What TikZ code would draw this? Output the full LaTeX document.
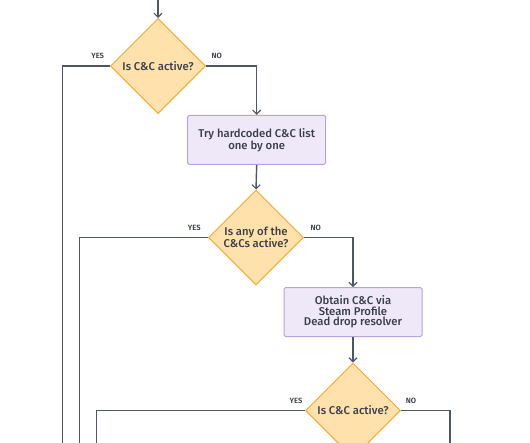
\documentclass[tikz,border=0pt]{standalone}
\usepackage{fontspec}
\setmainfont{Fira Sans}[UprightFont=* Medium, BoldFont=* SemiBold]
\usetikzlibrary{shapes.geometric,arrows.meta}
\definecolor{linec}{HTML}{4D5662}
\definecolor{txtc}{HTML}{3A3F4A}
\definecolor{decfill}{HTML}{FFE2AB}
\definecolor{decdraw}{HTML}{F7A932}
\definecolor{boxfill}{HTML}{EEE8F8}
\definecolor{boxdraw}{HTML}{B7A2DE}
\tikzset{
  decision/.style={diamond, aspect=1, draw=decdraw, fill=decfill, line width=1pt,
    minimum width=95pt, minimum height=95pt, inner sep=0pt, align=center,
    text=txtc, font=\fontsize{11.3}{12}\selectfont},
  procbox/.style={rectangle, rounded corners=1.5pt, draw=boxdraw, fill=boxfill, line width=1pt,
    minimum width=138pt, minimum height=49pt, align=center, text=txtc,
    font=\fontsize{11.3}{10.7}\selectfont},
  conn/.style={draw=linec, line width=1.4pt},
  arr/.style={conn, -{Straight Barb[length=4pt,width=8pt,line width=1.1pt]}},
  lbl/.style={text=txtc, font=\fontsize{7.6}{8}\selectfont\bfseries}
}
\begin{document}
\begin{tikzpicture}[x=1pt,y=-1pt]
\useasboundingbox (0,0) rectangle (530,442);
\node[decision] (d1) at (158,66) {Is C\&C active?};
\node[procbox] (b1) at (256.7,139.8) {Try hardcoded C\&C list\\one by one};
\node[decision] (d2) at (256,237.5) {Is any of the\\C\&Cs active?};
\node[procbox] (b2) at (353,312) {Obtain C\&C via\\Steam Profile\\Dead drop resolver};
\node[decision] (d3) at (353,410.5) {Is C\&C active?};
\coordinate (top) at (158,-2);
\coordinate (y1) at (62.3,445);
\coordinate (y2) at (79.3,445);
\coordinate (y3) at (96.7,445);
\coordinate (n3) at (450,445);
\draw[arr] (top) -- (d1.north);
\draw[conn] (d1.west) -| (y1);
\draw[arr] (d1.east) -| (b1.north);
\draw[arr] (b1.south) -- (d2.north);
\draw[conn] (d2.west) -| (y2);
\draw[arr] (d2.east) -| (b2.north);
\draw[arr] (b2.south) -- (d3.north);
\draw[conn] (d3.west) -| (y3);
\draw[conn] (d3.east) -| (n3);
\node[lbl] (l1y) at (97.7,56) {YES};
\node[lbl] (l1n) at (216.7,56) {NO};
\node[lbl] (l2y) at (194.3,227.7) {YES};
\node[lbl] (l2n) at (315.7,227.7) {NO};
\node[lbl] (l3y) at (296,401) {YES};
\node[lbl] (l3n) at (411,401) {NO};
\end{tikzpicture}
\end{document}
